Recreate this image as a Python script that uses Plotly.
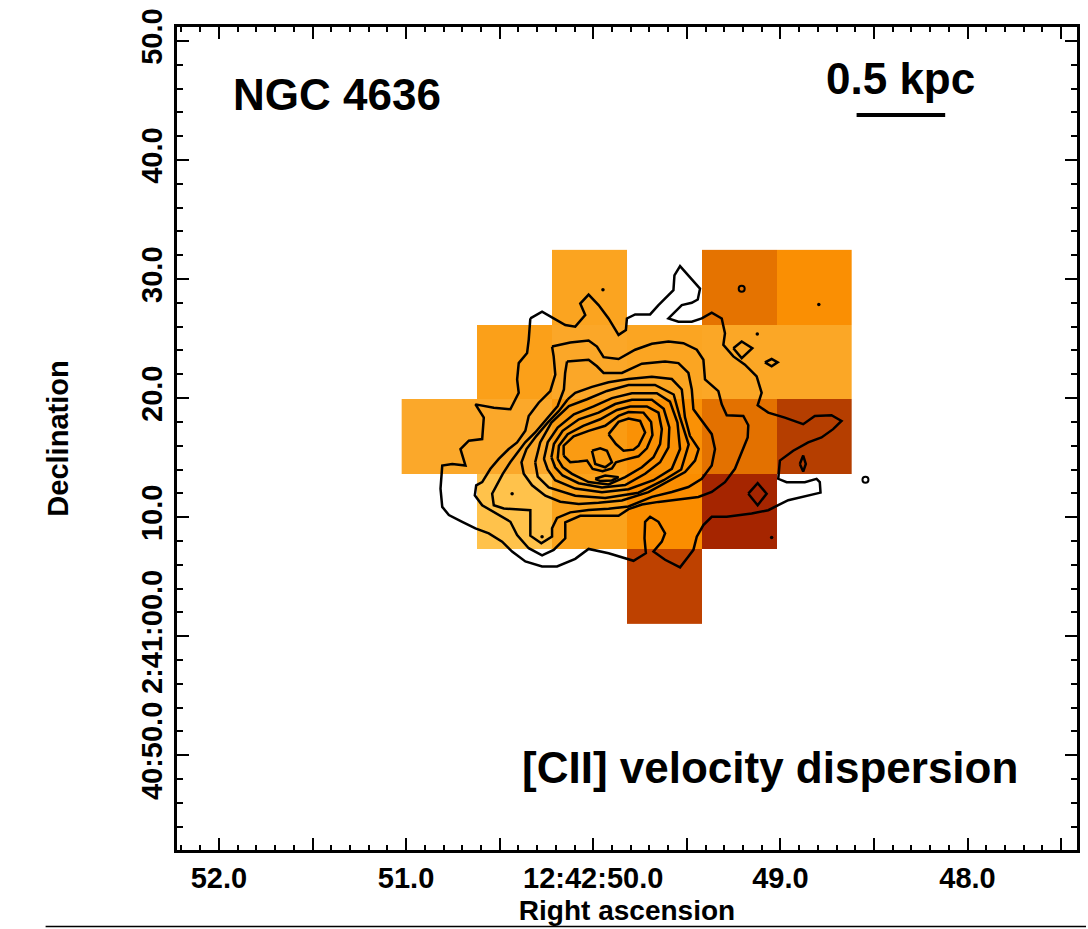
import plotly.graph_objects as go

# ---------------- data ----------------
# [CII] velocity dispersion map (km/s), spaxel centres in RA seconds (12h42m..s) and Dec arcsec (from +2:41:00)
ra_centers = [50.823, 50.422, 50.020, 49.618, 49.217, 48.817]
dec_centers = [29.30, 23.00, 16.71, 10.43, 4.16]
sigma = [
    [None, None, 150, None, 210, 178],
    [None, 158, 142, 148, 144, 144],
    [140, 140, 166, 176, 212, 264],
    [None, 120, 154, 180, 290, None],
    [None, None, None, 252, None, None],
]
sigma_min, sigma_max = 100, 300
cmap = [(100, "#FFD36A"), (120, "#FFC24B"), (140, "#FBA82A"), (154, "#FBA31C"),
        (166, "#FA9B12"), (180, "#FA8D00"), (210, "#E57300"), (250, "#BF4200"),
        (264, "#B53E00"), (290, "#A52500"), (300, "#A01E00")]

# contour reference position (nucleus) and contour vertices as arcsec offsets (dx west+, dy north+)
RA0, DEC0 = 49.87, 16.0
contour_1 = [(-6.99, 10.69), (-6.05, 11.25), (-5.12, 10.69), (-4.19, 10.14), (-3.39, 10.0), (-2.59, 10.97),
             (-2.99, 11.94), (-2.32, 12.69), (-1.52, 11.81), (-0.72, 10.69), (0.08, 9.31), (0.67, 9.72),
             (0.75, 10.69), (1.41, 11.03), (2.61, 11.03), (3.28, 11.81), (4.48, 13.06), (4.56, 14.31),
             (5.01, 15.08), (5.81, 14.17), (6.61, 13.19), (6.43, 12.28), (5.95, 12.0), (5.15, 11.81),
             (4.08, 10.69), (4.88, 10.42), (5.95, 10.42), (6.75, 10.69), (7.55, 11.17), (8.35, 10.69),
             (8.61, 9.44), (8.48, 8.47), (9.28, 7.5), (10.21, 6.81), (11.15, 5.83), (11.55, 4.44),
             (11.23, 3.39), (12.08, 2.78), (13.41, 2.36), (14.88, 1.81), (15.81, 2.5), (17.15, 2.56),
             (17.95, 2.08), (17.28, 1.39), (16.35, 0.69), (15.28, 0.28), (14.08, -0.42), (13.01, -1.25),
             (12.88, -2.78), (13.55, -3.06), (15.01, -3.06), (15.95, -2.78), (16.21, -3.06), (16.27, -3.94),
             (14.75, -4.31), (13.68, -4.58), (12.88, -5.0), (12.08, -5.42), (10.75, -5.69), (9.68, -5.83),
             (8.75, -5.97), (7.55, -5.97), (6.88, -6.67), (6.35, -7.64), (6.08, -8.75), (5.68, -9.31),
             (5.01, -10.22), (3.81, -9.58), (2.88, -8.89), (3.55, -8.06), (3.81, -7.36), (3.28, -6.39),
             (2.61, -5.97), (2.21, -6.39), (2.16, -7.78), (2.27, -9.03), (1.28, -9.67), (-0.72, -9.03),
             (-2.32, -8.67), (-3.39, -9.5), (-4.85, -10.14), (-6.05, -10.14), (-7.39, -9.72), (-8.45, -8.89),
             (-9.25, -8.06), (-10.32, -7.36), (-11.39, -6.94), (-12.45, -6.39), (-13.52, -5.83), (-14.05, -5.14),
             (-14.19, -3.61), (-14.05, -1.67), (-13.25, -1.53), (-12.19, -1.67), (-12.59, -0.28), (-11.92, 0.42),
             (-10.85, 0.56), (-10.72, 2.36), (-11.39, 3.47), (-9.92, 3.19), (-8.59, 3.06), (-7.92, 4.44),
             (-8.05, 5.56), (-7.92, 6.94), (-7.25, 7.78), (-7.12, 8.89)]
contour_2 = [(-5.25, 8.33), (-3.79, 8.67), (-2.32, 8.83), (-1.65, 8.33), (-1.12, 7.44), (0.08, 7.28),
             (1.41, 8.06), (2.75, 8.56), (4.08, 8.75), (5.28, 8.61), (6.35, 8.06), (6.88, 7.22), (7.01, 5.56),
             (8.08, 4.58), (8.35, 3.47), (8.75, 2.56), (10.08, 2.5), (10.48, 1.72), (10.43, 0.69), (9.95, -0.56),
             (9.41, -1.94), (8.61, -3.06), (7.55, -3.89), (6.48, -4.31), (5.41, -4.44), (4.35, -4.58),
             (3.28, -4.72), (1.95, -4.94), (0.88, -5.33), (0.08, -5.89), (-1.25, -5.89), (-2.99, -5.89),
             (-4.19, -6.44), (-4.19, -7.78), (-5.12, -8.75), (-6.05, -9.22), (-7.12, -8.61), (-8.05, -7.5),
             (-8.59, -6.39), (-9.79, -5.69), (-10.85, -5.0), (-11.44, -4.17), (-11.33, -3.33), (-10.85, -3.06),
             (-10.19, -1.94), (-9.52, -1.11), (-8.72, -0.28), (-8.05, 0.28), (-7.39, 1.25), (-7.12, 2.5),
             (-6.32, 3.61), (-5.39, 4.58), (-4.99, 5.97), (-5.12, 7.5)]
contour_3 = [(-4.05, 7.08), (-2.32, 7.22), (-1.65, 6.67), (-1.12, 6.11), (0.35, 6.11), (1.95, 6.89),
             (3.81, 7.08), (4.88, 6.94), (5.68, 6.11), (5.95, 4.72), (6.08, 3.06), (6.88, 1.94), (7.55, 0.97),
             (7.81, -0.28), (7.55, -1.67), (6.75, -2.78), (5.68, -3.47), (4.35, -3.89), (2.75, -4.3),
             (0.88, -5.1), (-0.72, -5.3), (-2.32, -5.4), (-3.79, -5.6), (-4.85, -6.06), (-5.25, -6.94),
             (-5.25, -7.64), (-6.11, -8.19), (-6.99, -7.56), (-6.99, -5.42), (-9.12, -5.28), (-9.92, -5.0),
             (-10.05, -4.03), (-9.7, -3.3), (-9.2, -2.36), (-8.6, -1.39), (-8.0, -0.56), (-7.4, 0.28),
             (-6.6, 1.11), (-5.7, 2.22), (-4.8, 3.33), (-4.3, 4.72), (-4.2, 6.11)]
contour_4 = [(-4.0, 3.89), (-3.39, 4.44), (-2.05, 4.94), (-0.72, 5.33), (0.88, 5.6), (2.75, 5.8), (4.35, 5.6),
             (5.15, 4.72), (5.4, 2.4), (5.8, 0.83), (6.5, -0.28), (6.21, -1.25), (5.41, -2.22), (4.08, -3.0),
             (2.48, -3.9), (0.35, -4.6), (-1.52, -4.8), (-3.12, -4.9), (-4.59, -4.7), (-5.79, -4.2),
             (-6.85, -3.33), (-7.52, -2.36), (-7.7, -1.39), (-7.3, -0.28), (-6.5, 0.83), (-5.6, 1.94),
             (-4.7, 2.92)]
contour_5 = [(-6.6, -1.39), (-6.2, 0.28), (-5.3, 1.94), (-3.9, 3.33), (-2.45, 3.9), (-0.85, 4.6), (0.88, 5.1),
             (3.0, 5.1), (4.5, 4.3), (5.0, 2.4), (5.7, 0.1), (5.1, -2.0), (3.7, -2.9), (1.68, -3.95),
             (-0.99, -4.4), (-3.39, -4.2), (-5.52, -3.5), (-6.4, -2.6)]
contour_6 = [(-5.9, -1.11), (-5.6, 0.28), (-4.8, 1.53), (-3.5, 2.64), (-1.92, 3.3), (-0.45, 4.0), (1.15, 4.4),
             (3.15, 4.4), (4.2, 3.7), (4.8, 1.94), (5.01, -0.28), (4.35, -1.94), (2.88, -2.9), (0.88, -3.65),
             (-1.25, -3.9), (-3.39, -3.6), (-5.0, -2.9), (-5.6, -2.0)]
contour_7 = [(-5.3, -0.97), (-5.1, 0.14), (-4.4, 1.25), (-3.1, 2.22), (-1.52, 2.78), (-0.19, 3.5), (1.15, 3.85),
             (2.75, 3.85), (3.7, 3.1), (4.15, 1.53), (4.08, -0.14), (3.41, -1.39), (2.21, -2.36), (0.61, -3.3),
             (-1.25, -3.5), (-3.12, -3.15), (-4.4, -2.5), (-5.0, -1.81)]
contour_8 = [(-4.8, -1.11), (-4.7, 0.0), (-4.0, 0.97), (-2.75, 1.67), (-1.39, 2.22), (-0.05, 3.0), (1.01, 3.3),
             (2.35, 3.3), (3.28, 2.78), (3.55, 1.39), (3.41, 0.14), (2.88, -0.97), (1.95, -1.81), (0.61, -2.64),
             (-0.72, -3.25), (-2.32, -3.05), (-3.65, -2.36), (-4.4, -1.81)]
contour_9 = [(-4.32, -0.83), (-4.32, 0.0), (-3.52, 0.78), (-2.32, 1.25), (-0.99, 1.67), (0.08, 2.5), (0.88, 2.83),
             (2.08, 2.78), (2.69, 2.0), (2.8, 0.89), (2.35, -0.22), (1.68, -0.89), (0.61, -1.17), (-0.13, -1.39),
             (-0.45, -1.9), (-1.2, -2.15), (-2.0, -1.95), (-2.45, -1.25), (-3.12, -1.33), (-3.79, -1.39)]
contour_10a = [(-0.72, 0.97), (0.08, 2.0), (0.88, 2.28), (1.81, 2.08), (2.21, 1.11), (1.68, 0.0), (1.28, -0.33),
               (0.48, -0.42), (-0.13, 0.14)]
contour_10b = [(-2.05, -0.42), (-1.39, -0.22), (-0.85, -0.42), (-0.45, -1.39), (-0.99, -1.81), (-1.79, -1.53)]
contour_9b = [(-1.79, -2.78), (-0.99, -2.5), (0.08, -2.64), (-0.45, -2.92), (-1.39, -2.97)]
island_a = [(9.28, 8.19), (9.95, 8.75), (10.8, 8.19), (9.95, 7.36)]
island_b = [(11.81, 7.0), (12.35, 7.28), (12.83, 7.0), (12.35, 6.67)]
island_c = [(14.61, -1.53), (14.88, -0.83), (15.09, -1.53), (14.88, -2.17)]
island_d = [(10.48, -4.03), (11.23, -3.14), (11.95, -4.03), (11.23, -5.0)]
dot_dx = [-1.17, 16.13, 11.2, 12.35, -8.45, -6.05]
dot_dy = [13.1, 11.86, 9.39, -7.72, -4.03, -7.64]
ring_dx = [9.95, 19.87]
ring_dy = [13.19, -2.86]

# scale bar: 0.5 kpc
bar_len_arcsec = 7.1
bar_ra_center, bar_dec = 48.356, 43.78

# axes ticks
x_major = [52.0, 51.5, 51.0, 50.5, 50.0, 49.5, 49.0, 48.5, 48.0, 47.5]
x_labels = ["52.0", "", "51.0", "", "12:42:50.0", "", "49.0", "", "48.0", ""]
y_major = [-10, 0, 10, 20, 30, 40, 50]
y_labels = ["40:50.0", "2:41:00.0", "10.0", "20.0", "30.0", "40.0", "50.0"]
x_range = [52.224, 47.415]
y_range = [-17.96, 51.17]

# ---------------- figure ----------------
def ra_of(dx):
    return RA0 - dx / 15.0

def dec_of(dy):
    return DEC0 + dy

fig = go.Figure()

cs = [[(v - sigma_min) / (sigma_max - sigma_min), c] for v, c in cmap]
fig.add_trace(go.Heatmap(x=ra_centers, y=dec_centers, z=sigma, colorscale=cs,
                         zmin=sigma_min, zmax=sigma_max, showscale=False, hoverongaps=False))

closed = [contour_1, contour_2, contour_3, contour_4, contour_5, contour_6, contour_7, contour_8,
          contour_9, contour_10a, contour_10b, contour_9b, island_a, island_b, island_c, island_d]
for pts in closed:
    pts = pts + [pts[0]]
    fig.add_trace(go.Scatter(x=[ra_of(p[0]) for p in pts], y=[dec_of(p[1]) for p in pts],
                             mode="lines", line=dict(color="black", width=2.5),
                             hoverinfo="skip", showlegend=False))

fig.add_trace(go.Scatter(x=[ra_of(v) for v in dot_dx], y=[dec_of(v) for v in dot_dy], mode="markers",
                         marker=dict(color="black", size=3.5), hoverinfo="skip", showlegend=False))
fig.add_trace(go.Scatter(x=[ra_of(v) for v in ring_dx], y=[dec_of(v) for v in ring_dy], mode="markers",
                         marker=dict(color="black", size=6, symbol="circle-open", line=dict(width=2)),
                         hoverinfo="skip", showlegend=False))

half = bar_len_arcsec / 15.0 / 2
fig.add_trace(go.Scatter(x=[bar_ra_center + half, bar_ra_center - half], y=[bar_dec, bar_dec],
                         mode="lines", line=dict(color="black", width=4), hoverinfo="skip", showlegend=False))

FONT = "Liberation Sans, Arial, Helvetica, sans-serif"
axis_common = dict(showgrid=False, zeroline=False, showline=True, linecolor="black", linewidth=3,
                   mirror="allticks", ticks="inside", tickcolor="black", tickwidth=2, ticklen=12)

fig.update_layout(
    width=1088, height=929,
    margin=dict(l=177, r=8, t=22, b=79),
    paper_bgcolor="white", plot_bgcolor="white",
    font=dict(family=FONT, color="black"),
    xaxis=dict(range=x_range, tickmode="array", tickvals=x_major, ticktext=[f"<b>{t}</b>" for t in x_labels],
               tickfont=dict(family=FONT, size=29, color="black"),
               minor=dict(dtick=0.1, tick0=0, ticks="inside", ticklen=5, tickwidth=2, tickcolor="black"),
               title=dict(text="<b>Right ascension</b>", font=dict(family=FONT, size=28), standoff=8),
               **axis_common),
    yaxis=dict(range=y_range, tickmode="array", tickvals=y_major, ticktext=[f"<b>{t}</b>" for t in y_labels],
               tickangle=-90, tickfont=dict(family=FONT, size=29, color="black"),
               minor=dict(dtick=2, tick0=0, ticks="inside", ticklen=6, tickwidth=2, tickcolor="black"),
               title=dict(text="<b>Declination</b>", font=dict(family=FONT, size=29), standoff=60),
               **axis_common),
    showlegend=False,
)

ann = dict(xref="paper", yref="paper", showarrow=False, xanchor="center", yanchor="middle")
fig.add_annotation(text="<b>NGC 4636</b>", x=0.178, y=0.918, font=dict(family=FONT, size=44, color="black"), **ann)
fig.add_annotation(text="<b>0.5 kpc</b>", x=0.804, y=0.937, font=dict(family=FONT, size=44, color="black"), **ann)
fig.add_annotation(text="<b>[CII] velocity dispersion</b>", x=0.659, y=0.1,
                   font=dict(family=FONT, size=44, color="black"), **ann)
fig.add_shape(type="line", xref="paper", yref="paper", x0=-0.146, x1=1.01, y0=-0.093, y1=-0.093,
              line=dict(color="black", width=1.5))

fig.write_html("out.html")
